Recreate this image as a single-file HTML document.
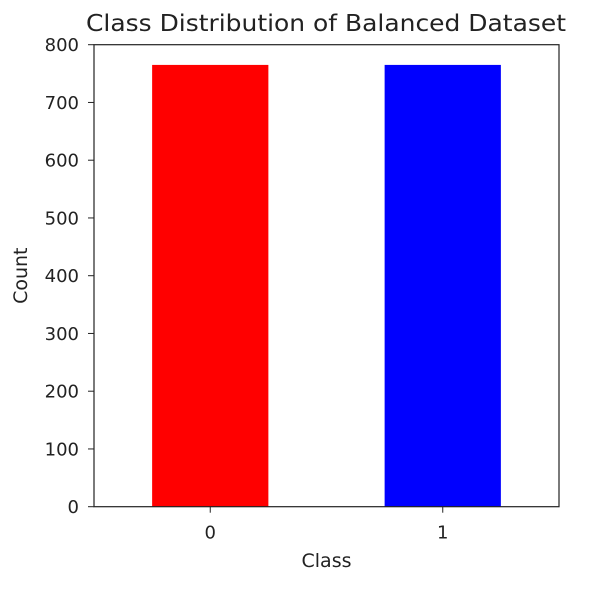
<!DOCTYPE html>
<html><head><meta charset="utf-8"><style>
html,body{margin:0;padding:0;background:#fff;}
svg text{font-family:"DejaVu Sans","Liberation Sans",sans-serif;fill:#222;}
</style></head><body>
<svg id="chart" width="606" height="585" xmlns="http://www.w3.org/2000/svg">
<text x="326" y="31" font-size="23" text-anchor="middle" textLength="480" lengthAdjust="spacingAndGlyphs">Class Distribution of Balanced Dataset</text>
<g id="ticks"></g>
<g id="bars"></g>
<rect x="94" y="44.7" width="465" height="462" fill="none" stroke="#222" stroke-width="1.2"/>
<text x="326.5" y="567" font-size="19" text-anchor="middle">Class</text>
<text transform="translate(27,275.7) rotate(-90)" font-size="19" text-anchor="middle">Count</text>
</svg>
<script>
const categories = ["0", "1"];
const counts = [765, 765];
const colors = ["#ff0000", "#0000ff"];
const yTicks = [0, 100, 200, 300, 400, 500, 600, 700, 800];

const X0 = 94, W = 465, Y0 = 506.7, H = 462;
const xScale = i => X0 + (i + 0.5) / 2 * W;
const yScale = v => Y0 - v / 800 * H;
const NS = "http://www.w3.org/2000/svg";
const bars = document.getElementById("bars");
const ticks = document.getElementById("ticks");

categories.forEach((c, i) => {
  const cx = xScale(i), bw = 0.5 / 2 * W;
  const r = document.createElementNS(NS, "rect");
  r.setAttribute("x", cx - bw / 2);
  r.setAttribute("y", yScale(counts[i]));
  r.setAttribute("width", bw);
  r.setAttribute("height", Y0 - yScale(counts[i]));
  r.setAttribute("fill", colors[i]);
  
  
  bars.appendChild(r);
  const l = document.createElementNS(NS, "line");
  l.setAttribute("x1", cx); l.setAttribute("x2", cx);
  l.setAttribute("y1", Y0); l.setAttribute("y2", Y0 + 6);
  l.setAttribute("stroke", "#222");
  
  
  ticks.appendChild(l);
  const t = document.createElementNS(NS, "text");
  t.setAttribute("x", cx); t.setAttribute("y", Y0 + 32);
  t.setAttribute("font-size", "18"); t.setAttribute("text-anchor", "middle");
  t.textContent = c;
  
  
  ticks.appendChild(t);
});

yTicks.forEach(v => {
  const y = yScale(v);
  const l = document.createElementNS(NS, "line");
  l.setAttribute("x1", X0 - 6); l.setAttribute("x2", X0);
  l.setAttribute("y1", y); l.setAttribute("y2", y);
  l.setAttribute("stroke", "#222");
  
  
  ticks.appendChild(l);
  const t = document.createElementNS(NS, "text");
  t.setAttribute("x", X0 - 15); t.setAttribute("y", y + 6.5);
  t.setAttribute("font-size", "18"); t.setAttribute("text-anchor", "end");
  t.textContent = v;
  
  
  ticks.appendChild(t);
});
</script>
</body></html>
